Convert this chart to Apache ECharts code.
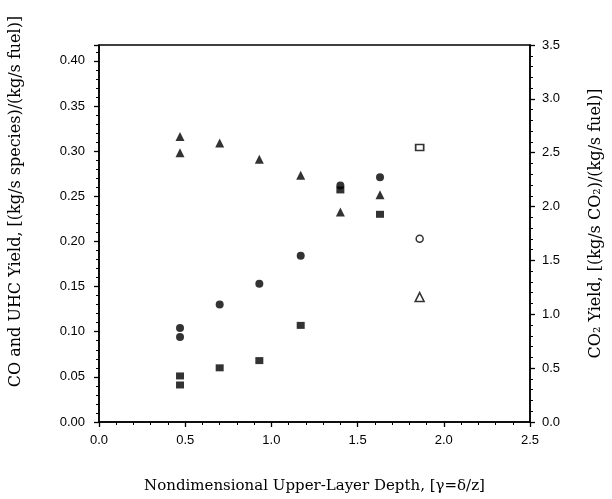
<!DOCTYPE html>
<html><head><meta charset="utf-8">
<script src="https://cdn.jsdelivr.net/npm/echarts@6/dist/echarts.min.js"></script>
<style>html,body{margin:0;padding:0;background:#fff;overflow:hidden}#c{width:612px;height:499px}</style>
</head><body><div id="c"></div>
<script>
// Data (x = nondimensional depth)
const triFilled = [[0.47,2.65],[0.47,2.50],[0.70,2.59],[0.93,2.44],[1.17,2.29],[1.40,1.95],[1.63,2.11]]; // CO2, right axis
const triOpen = [[1.86,1.16]];
const circFilled = [[0.47,0.104],[0.47,0.094],[0.70,0.130],[0.93,0.153],[1.17,0.184],[1.40,0.262],[1.63,0.271]];
const circOpen = [[1.86,0.203]];
const sqFilled = [[0.47,0.051],[0.47,0.041],[0.70,0.060],[0.93,0.068],[1.17,0.107],[1.40,0.257],[1.63,0.230]];
const sqOpen = [[1.86,0.304]];
const leftMax = 0.4175, rightMax = 3.5;

const chart = echarts.init(document.getElementById('c'));
const tickFont = {fontFamily:'Liberation Sans', fontSize:13, color:'#000'};
const lineStyle = {color:'#000', width:1.5};
chart.setOption({
  animation:false,
  backgroundColor:'#fff',
  grid:{left:98, right:76, top:45, bottom:71, show:true, borderColor:'#000', borderWidth:1.5, backgroundColor:'transparent'},
  xAxis:{type:'value', min:0, max:2.5, interval:0.5,
    axisLine:{lineStyle}, axisTick:{length:5, lineStyle:{color:'#000',width:1.3}},
    minorTick:{show:true, splitNumber:5, length:3, lineStyle:{color:'#000'}},
    splitLine:{show:false},
    axisLabel:{...tickFont, margin:12, formatter:v=>v.toFixed(1)},
    name:'Nondimensional Upper-Layer Depth, [γ=δ/z]', nameLocation:'middle', nameGap:57,
    nameTextStyle:{fontFamily:'DejaVu Serif', fontSize:15, color:'#000'}},
  yAxis:[
    {type:'value', min:0, max:leftMax, interval:0.05, position:'left',
      axisLine:{show:true, lineStyle}, axisTick:{length:5, lineStyle:{color:'#000',width:1.3}},
      minorTick:{show:true, splitNumber:5, length:3, lineStyle:{color:'#000'}},
      splitLine:{show:false},
      axisLabel:{...tickFont, margin:14, showMaxLabel:false, formatter:v=>v.toFixed(2)},
      name:'CO and UHC Yield, [(kg/s species)/(kg/s fuel)]', nameLocation:'middle', nameGap:75,
      nameTextStyle:{fontFamily:'DejaVu Serif', fontSize:16, color:'#000', padding:[0,0,0,64]}},
    {type:'value', min:0, max:rightMax, interval:0.5, position:'right',
      axisLine:{show:true, lineStyle}, axisTick:{length:5, lineStyle:{color:'#000',width:1.3}},
      minorTick:{show:true, splitNumber:5, length:3, lineStyle:{color:'#000'}},
      splitLine:{show:false},
      axisLabel:{...tickFont, margin:12, formatter:v=>v.toFixed(1)},
      name:'CO₂ Yield, [(kg/s CO₂)/(kg/s fuel)]', nameLocation:'middle', nameGap:58, nameRotate:90,
      nameTextStyle:{fontFamily:'DejaVu Serif', fontSize:16, color:'#000', padding:[0,0,0,20]}}
  ],
  series:[
    {type:'scatter', yAxisIndex:1, data:triFilled, symbol:'triangle', symbolSize:9, itemStyle:{color:'#000'}},
    {type:'scatter', yAxisIndex:1, data:triOpen, symbol:'triangle', symbolSize:9, itemStyle:{color:'#fff', borderColor:'#000', borderWidth:1.5}},
    {type:'scatter', yAxisIndex:0, data:circFilled, symbol:'circle', symbolSize:8, itemStyle:{color:'#000'}},
    {type:'scatter', yAxisIndex:0, data:circOpen, symbol:'circle', symbolSize:7, itemStyle:{color:'#fff', borderColor:'#000', borderWidth:1.5}},
    {type:'scatter', yAxisIndex:0, data:sqFilled, symbol:'rect', symbolSize:[8,7], itemStyle:{color:'#000'}},
    {type:'scatter', yAxisIndex:0, data:sqOpen, symbol:'rect', symbolSize:[8,6], itemStyle:{color:'#fff', borderColor:'#000', borderWidth:1.5}}
  ]
});
</script></body></html>
